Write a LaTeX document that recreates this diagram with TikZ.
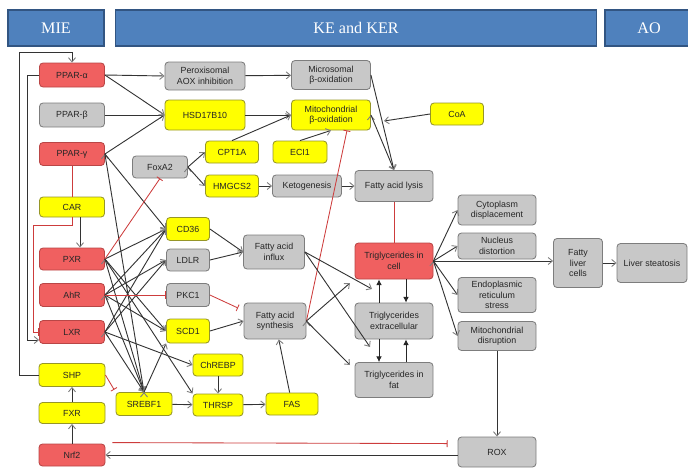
\documentclass[tikz,border=0pt]{standalone}
\usepackage{fontspec}
\setmainfont{Liberation Serif}
\setsansfont{Liberation Sans}
\usetikzlibrary{positioning, calc, arrows.meta}

\definecolor{hdrblue}{RGB}{79,129,189}
\definecolor{hdredge}{RGB}{50,85,130}
\definecolor{mired}{RGB}{240,96,96}
\definecolor{miedge}{RGB}{185,70,70}
\definecolor{keyel}{RGB}{255,255,0}
\definecolor{yeledge}{RGB}{150,150,40}
\definecolor{kegray}{RGB}{200,200,200}
\definecolor{grayedge}{RGB}{125,125,125}
\definecolor{inhred}{RGB}{205,60,60}

\tikzset{
  sz/.code 2 args={\pgfmathsetlengthmacro\bw{#1*0.025cm}\pgfmathsetlengthmacro\bh{#2*0.025cm}\pgfkeysalso{minimum width=\bw, minimum height=\bh}},
  hdr/.style={draw=hdredge, line width=1.2pt, fill=hdrblue, text=white, font=\rmfamily\fontsize{11.5}{14}\selectfont, inner sep=0pt},
  box/.style={draw, rounded corners=2.5pt, align=center, inner sep=1pt, line width=0.6pt, text=black!85, font=\fontsize{6.3}{7.4}\selectfont\sffamily},
  rbox/.style={box, fill=mired, draw=miedge},
  ybox/.style={box, fill=keyel, draw=yeledge},
  gbox/.style={box, fill=kegray, draw=grayedge},
  act/.style={-{Straight Barb[length=3pt,width=5pt,color=black!50]}, draw=black!80, line width=0.65pt},
  inh/.style={-{Bar[width=5pt]}, draw=inhred, line width=0.6pt},
  tgarr/.style={-{Latex[length=4pt,width=4pt]}, draw=black!85, line width=0.6pt}
}

\begin{document}
\begin{tikzpicture}[x=0.025cm, y=-0.025cm]
\useasboundingbox (0,0) rectangle (688,468);

% headers
\node[hdr, sz={96}{36}] (mie) at (56,28) {MIE};
\node[hdr, sz={481}{36}] (ke) at (356,28) {KE and KER};
\node[hdr, sz={88}{36}] (ao) at (649,28) {AO};

% molecular initiating events
\node[rbox, sz={65}{24}] (ppara) at (72,75) {PPAR-α};
\node[gbox, sz={65}{24}] (pparb) at (72,115) {PPAR-β};
\node[rbox, sz={65}{23}] (pparg) at (72,154) {PPAR-γ};
\node[ybox, sz={65}{20}] (car) at (72,207) {CAR};
\node[rbox, sz={65}{22}] (pxr) at (72,259) {PXR};
\node[rbox, sz={65}{23}] (ahr) at (72,295) {AhR};
\node[rbox, sz={65}{23}] (lxr) at (72,332) {LXR};
\node[ybox, sz={66}{23}] (shp) at (72,375) {SHP};
\node[ybox, sz={66}{21}] (fxr) at (72,413) {FXR};
\node[rbox, sz={66}{22}] (nrf) at (72,455) {Nrf2};

% genes
\node[gbox, sz={80}{28}] (perox) at (205,76) {Peroxisomal\\AOX inhibition};
\node[ybox, sz={80}{30}] (hsd) at (205,115) {HSD17B10};
\node[gbox, sz={55}{22}] (foxa) at (160,167) {FoxA2};
\node[ybox, sz={53}{22}] (cpt) at (232,152) {CPT1A};
\node[ybox, sz={53}{22}] (hmg) at (232,186) {HMGCS2};
\node[ybox, sz={43}{23}] (cd36) at (188,229) {CD36};
\node[gbox, sz={43}{22}] (ldlr) at (188,260) {LDLR};
\node[gbox, sz={43}{23}] (pkc) at (188,295) {PKC1};
\node[ybox, sz={43}{24}] (scd) at (188,331) {SCD1};
\node[ybox, sz={50}{22}] (chrebp) at (218,365) {ChREBP};
\node[ybox, sz={56}{23}] (srebf) at (144,404) {SREBF1};
\node[ybox, sz={50}{22}] (thrsp) at (218,405) {THRSP};
\node[ybox, sz={52}{22}] (fas) at (292,404) {FAS};

% cellular events
\node[gbox, sz={79}{29}] (micro) at (331,75) {Microsomal\\β-oxidation};
\node[ybox, sz={79}{30}] (mito) at (331,115) {Mitochondrial\\β-oxidation};
\node[ybox, sz={54}{22}] (eci) at (300,152) {ECI1};
\node[ybox, sz={53}{22}] (coa) at (457,114) {CoA};
\node[gbox, sz={69}{22}] (keto) at (307,186) {Ketogenesis};
\node[gbox, sz={78}{31}] (lysis) at (394,186) {Fatty acid lysis};
\node[gbox, sz={61}{34}] (influx) at (274,252) {Fatty acid\\influx};
\node[gbox, sz={62}{36}] (synth) at (275,321) {Fatty acid\\synthesis};
\node[rbox, sz={78}{36}] (tgcell) at (394,261) {Triglycerides in\\cell};
\node[gbox, sz={78}{36}] (tgext) at (394,321) {Triglycerides\\extracellular};
\node[gbox, sz={78}{35}] (tgfat) at (394,380) {Triglycerides in\\fat};

% organ level
\node[gbox, sz={78}{30}] (cyto) at (497,210) {Cytoplasm\\displacement};
\node[gbox, sz={78}{26}] (nucl) at (497,246) {Nucleus\\distortion};
\node[gbox, sz={78}{35}] (er) at (497,295) {Endoplasmic\\reticulum\\stress};
\node[gbox, sz={78}{29}] (mdis) at (497,336) {Mitochondrial\\disruption};
\node[gbox, sz={49}{49}] (flc) at (578,263) {Fatty\\liver\\cells};
\node[gbox, sz={70}{39}] (ls) at (652,263) {Liver steatosis};
\node[gbox, sz={78}{30}] (rox) at (497,452) {ROX};

% free ends
\coordinate (loopA) at (19,52);
\coordinate (loopB) at (27,340);
\coordinate (carbend) at (33,225);
\coordinate (coaend) at (384,121);
\coordinate (pkcend) at (238,308);
\coordinate (infA) at (372,289);
\coordinate (infB) at (370,347);
\coordinate (synA) at (350,283);
\coordinate (synB) at (350,365);

% loops on the left
\draw[act] (shp.west) -| (loopA) -| (ppara.north);
\draw[act] (ppara.west) -| (loopB) -- (loopB -| lxr.west);
\draw[inh] (car.south) |- (carbend) |- (lxr.west);
\draw[inhred, line width=0.6pt] (pparg.south) -- (car.north);
\draw[act] (car.south -| 80,0) -- (pxr.north -| 80,0);
\path[act] (nrf) edge (fxr)
           (fxr) edge (shp);

% PPAR branch
\path[act] (ppara.east) edge (perox.west)
           (ppara.east) edge (hsd.west)
           (pparb.east) edge (hsd.west)
           (pparg.east) edge (hsd.west)
           (pparg.east) edge (cd36.west)
           (pparg.east) edge (srebf.north);
\path[act] (perox) edge (micro)
           (hsd) edge (mito)
           (cpt.north) edge (mito.west)
           (eci.north) edge (mito.south)
           (coa.west) edge (coaend)
           (micro.east) edge (lysis.north)
           (mito.east) edge (lysis.north);
\path[act] (foxa.east) edge (cpt.west)
           (foxa.east) edge (hmg.west)
           (hmg) edge (keto)
           (keto) edge (lysis);

% nuclear receptors to genes
\path[act] (pxr.east) edge (cd36.west)
           (pxr.east) edge (scd.west)
           (pxr.east) edge (thrsp.north west)
           (pxr.east) edge (srebf.north);
\path[act] (ahr.east) edge (cd36.west)
           (ahr.east) edge (ldlr.west)
           (ahr.east) edge (scd.west)
           (ahr.east) edge (srebf.north);
\path[act] (lxr.east) edge (cd36.west)
           (lxr.east) edge (ldlr.west)
           (lxr.east) edge (chrebp.west)
           (lxr.east) edge (srebf.north);
\path[act] (srebf.north) edge (scd.south west)
           (srebf) edge (thrsp)
           (chrebp) edge (thrsp)
           (thrsp) edge (fas)
           (fas) edge (synth);

% inhibitions
\draw[inh] (pxr.east) -- (foxa.south);
\draw[inh] (ahr.east) -- (pkc.west);
\draw[inh] (pkc.east) -- (pkcend);
\draw[inh, shorten >=2pt] (shp.east) -- (srebf.north west);
\draw[inh] (synth.east) -- ($(mito.south)+(16,0)$);
\draw[inh] ($(nrf.north east)+(7,-1)$) -- ($(rox.west |- nrf.north east)+(-10,0)$);
\draw[act] (rox.west |- nrf.east) -- (nrf.east);
\draw[inhred, line width=0.6pt] (lysis) -- (tgcell);

% fatty acids to triglycerides
\path[act] (cd36.east) edge (influx.west)
           (ldlr.east) edge (influx.west)
           (scd.east) edge (synth.west)
           (influx.east) edge (infA)
           (influx.east) edge (infB)
           (synth.east) edge (synA)
           (synth.east) edge (synB);
\draw[tgarr] ($(tgext.north)+(-15,0)$) -- ($(tgcell.south)+(-15,0)$);
\draw[tgarr] ($(tgcell.south)+(12,0)$) -- ($(tgext.north)+(12,0)$);
\draw[tgarr] ($(tgext.south)+(-15,0)$) -- ($(tgfat.north)+(-15,0)$);
\draw[tgarr] ($(tgfat.north)+(12,0)$) -- ($(tgext.south)+(12,0)$);

% adverse outcome
\path[act] (tgcell.east) edge (cyto.west)
           (tgcell.east) edge (nucl.west)
           (tgcell.east) edge (er.west)
           (tgcell.east) edge (mdis.west)
           (tgcell.east) edge (tgcell.east -| flc.west)
           (flc) edge (ls)
           (mdis) edge (rox);
\end{tikzpicture}
\end{document}
